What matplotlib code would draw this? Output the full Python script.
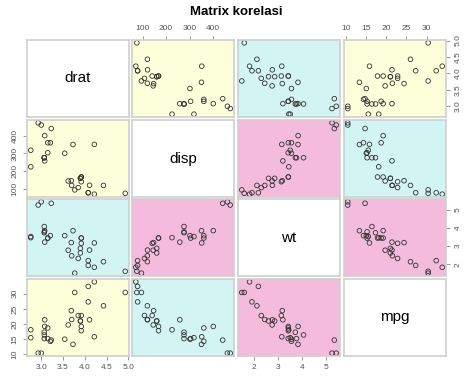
import matplotlib.pyplot as plt

plt.rcParams['font.family'] = ['Liberation Sans', 'DejaVu Sans']

# data mtcars: drat, disp, wt, mpg
drat = [3.90, 3.90, 3.85, 3.08, 3.15, 2.76, 3.21, 3.69, 3.92, 3.92, 3.92, 3.07, 3.07, 3.07, 2.93, 3.00,
        3.23, 4.08, 4.93, 4.22, 3.70, 2.76, 3.15, 3.73, 3.08, 4.08, 4.43, 3.77, 4.22, 3.62, 3.54, 4.11]
disp = [160, 160, 108, 258, 360, 225, 360, 146.7, 140.8, 167.6, 167.6, 275.8, 275.8, 275.8, 472, 460,
        440, 78.7, 75.7, 71.1, 120.1, 318, 304, 350, 400, 79, 120.3, 95.1, 351, 145, 301, 121]
wt = [2.620, 2.875, 2.320, 3.215, 3.440, 3.460, 3.570, 3.190, 3.150, 3.440, 3.440, 4.070, 3.730, 3.780, 5.250, 5.424,
      5.345, 2.200, 1.615, 1.835, 2.465, 3.520, 3.435, 3.840, 3.845, 1.935, 2.140, 1.513, 3.170, 2.770, 3.570, 2.780]
mpg = [21.0, 21.0, 22.8, 21.4, 18.7, 18.1, 14.3, 24.4, 22.8, 19.2, 17.8, 16.4, 17.3, 15.2, 10.4, 10.4,
       14.7, 32.4, 30.4, 33.9, 21.5, 15.5, 15.2, 13.3, 19.2, 27.3, 26.0, 30.4, 15.8, 19.7, 15.0, 21.4]

nama = ['drat', 'disp', 'wt', 'mpg']
kolom = [drat, disp, wt, mpg]
tick_drat = [3.0, 3.5, 4.0, 4.5, 5.0]
tick_disp = [100, 200, 300, 400]
tick_wt = [2, 3, 4, 5]
tick_mpg = [10, 15, 20, 25, 30]
ticks = [tick_drat, tick_disp, tick_wt, tick_mpg]

# warna panel (gclus dmat.color)
kuning, cyan, pink = '#FDFFDA', '#D2F4F2', '#F4BBDD'
warna = [[None, kuning, cyan, kuning],
         [kuning, None, pink, cyan],
         [cyan, pink, None, pink],
         [kuning, cyan, pink, None]]

W, H = 474, 381
fig = plt.figure(figsize=(W/100, H/100), dpi=100)
fig.text(236/W, 1-12/H, 'Matrix korelasi', ha='center', va='center', fontsize=9.5, fontweight='bold')

xs = [27, 132, 238, 344]
ys = [40, 120, 199, 279]
pw, ph = 102, 77

def rentang(v):
    a, b = min(v), max(v)
    d = (b - a) * 0.04
    return a - d, b + d

for i in range(4):
    for j in range(4):
        ax = fig.add_axes([xs[j]/W, 1-(ys[i]+ph)/H, pw/W, ph/H])
        for s in ax.spines.values():
            s.set_color('#cfcfcf')
            s.set_linewidth(1.2)
        ax.set_xlim(rentang(kolom[j]))
        ax.set_ylim(rentang(kolom[i]))
        if i == j:
            ax.set_facecolor('white')
            ax.text(0.5, 0.5, nama[i], transform=ax.transAxes, ha='center', va='center', fontsize=11)
        else:
            ax.set_facecolor(warna[i][j])
            ax.scatter(kolom[j], kolom[i], s=11, facecolors='none', edgecolors='#333333', linewidths=0.6)
        ax.tick_params(colors='#888888', labelcolor='#555555', labelsize=6, length=3, width=0.6, pad=3)
        ax.set_xticks(ticks[j])
        ax.set_yticks(ticks[i])
        ax.tick_params(bottom=False, top=False, left=False, right=False,
                       labelbottom=False, labeltop=False, labelleft=False, labelright=False)
        if i == 0 and j % 2 == 1:
            ax.tick_params(top=True, labeltop=True)
        if i == 3 and j % 2 == 0:
            ax.tick_params(bottom=True, labelbottom=True)
        if j == 0 and i % 2 == 1:
            ax.tick_params(left=True, labelleft=True)
            for t in ax.get_yticklabels():
                t.set_rotation(90)
                t.set_va('center')
        if j == 3 and i % 2 == 0:
            ax.tick_params(right=True, labelright=True)
            for t in ax.get_yticklabels():
                t.set_rotation(90)
                t.set_va('center')

fig.savefig('out.png', dpi=100)
